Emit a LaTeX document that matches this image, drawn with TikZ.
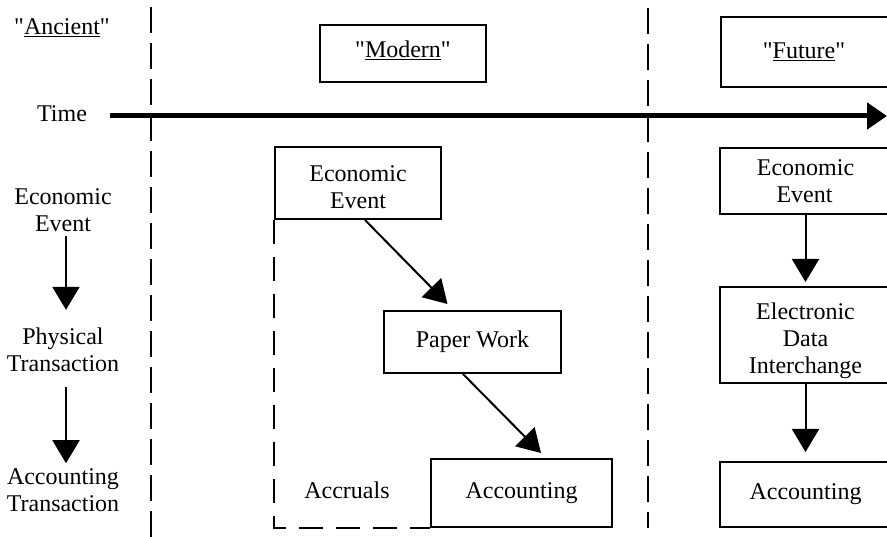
\documentclass[tikz,border=0pt]{standalone}
\usepackage{fontspec}
\setmainfont{Liberation Serif}
\usetikzlibrary{arrows.meta}
\newcommand{\qt}[1]{\textquotedbl\underline{#1}\textquotedbl}
\begin{document}
\begin{tikzpicture}[x=1pt,y=-1pt,
  every node/.style={font=\fontsize{24}{27}\selectfont, align=center, inner sep=0pt},
  boxnode/.style={draw, line width=2pt, minimum width=#1},
  era/.style={line width=2.2pt, dash pattern=on 26pt off 10pt},
  accr/.style={line width=2pt, dash pattern=on 24pt off 13pt},
  flow/.style={line width=2pt, -{Triangle[length=23pt,width=27pt]}},
  timeline/.style={line width=5pt, -{Triangle[length=20pt,width=26pt]}}]
\useasboundingbox (0,0) rectangle (887,537);

% era separators
\coordinate (s1top) at (151,7);
\coordinate (s1bot) at (151,537);
\coordinate (s2top) at (648,8);
\coordinate (s2bot) at (648,528);
\draw[era] (s1top) -- (s1bot);
\draw[era] (s2top) -- (s2bot);

% left-hand legend
\node (ancient) at (62,28) {\qt{Ancient}};
\node (time) at (62,114) {Time};
\node (lee) at (63,210) {Economic\\Event};
\node (lpt) at (63,350) {Physical\\Transaction};
\node (lat) at (63,490) {Accounting\\Transaction};
\draw[flow] ([xshift=3pt,yshift=-4pt]lee.south) -- ([xshift=3pt,yshift=18pt]lpt.north);
\draw[flow] ([xshift=3pt,yshift=-15pt]lpt.south) -- ([xshift=3pt,yshift=5pt]lat.north);

% time axis
\coordinate (tend) at (887,116);
\draw[timeline] (110,116) -- (tend);

% modern era
\node[boxnode=166pt, minimum height=57pt,
      label={[yshift=3pt]center:\qt{Modern}}] (modern) at (403,53.5) {};
\node[boxnode=166pt, minimum height=72pt,
      label={[yshift=-4pt]center:Economic\\Event}] (mee) at (358,183) {};
\node[boxnode=177pt, minimum height=62pt] (pw) at (472.5,342) {Paper Work};
\node[boxnode=181pt, minimum height=68pt] (macc) at (521.5,493) {Accounting};
\node (accruals) at (347,490) {Accruals};
\draw[accr] (mee.south west) -- (mee.south west |- macc.south) -- (macc.south west);
\draw[flow] ([xshift=7pt]mee.south) -- ([xshift=-25pt,yshift=6pt]pw.north);
\draw[flow] ([xshift=-9.5pt]pw.south) -- ([xshift=19.5pt,yshift=5pt]macc.north);

% future era
\node[boxnode=170pt, minimum height=70pt] (future) at (806,52) {\qt{Future}\hspace*{4pt}};
\node[boxnode=171pt, minimum height=66pt] (fee) at (805.5,181) {Economic\\Event\hspace*{2pt}};
\node[boxnode=171pt, minimum height=96pt,
      label={[yshift=-6pt]center:Electronic\\Data\\Interchange}] (fedi) at (805.5,335) {};
\node[boxnode=171pt, minimum height=65pt] (facc) at (805.5,494.5) {Accounting};
\draw[flow] (fee.south) -- ([yshift=4pt]fedi.north);
\draw[flow] (fedi.south) -- ([yshift=9pt]facc.north);
\end{tikzpicture}
\end{document}
